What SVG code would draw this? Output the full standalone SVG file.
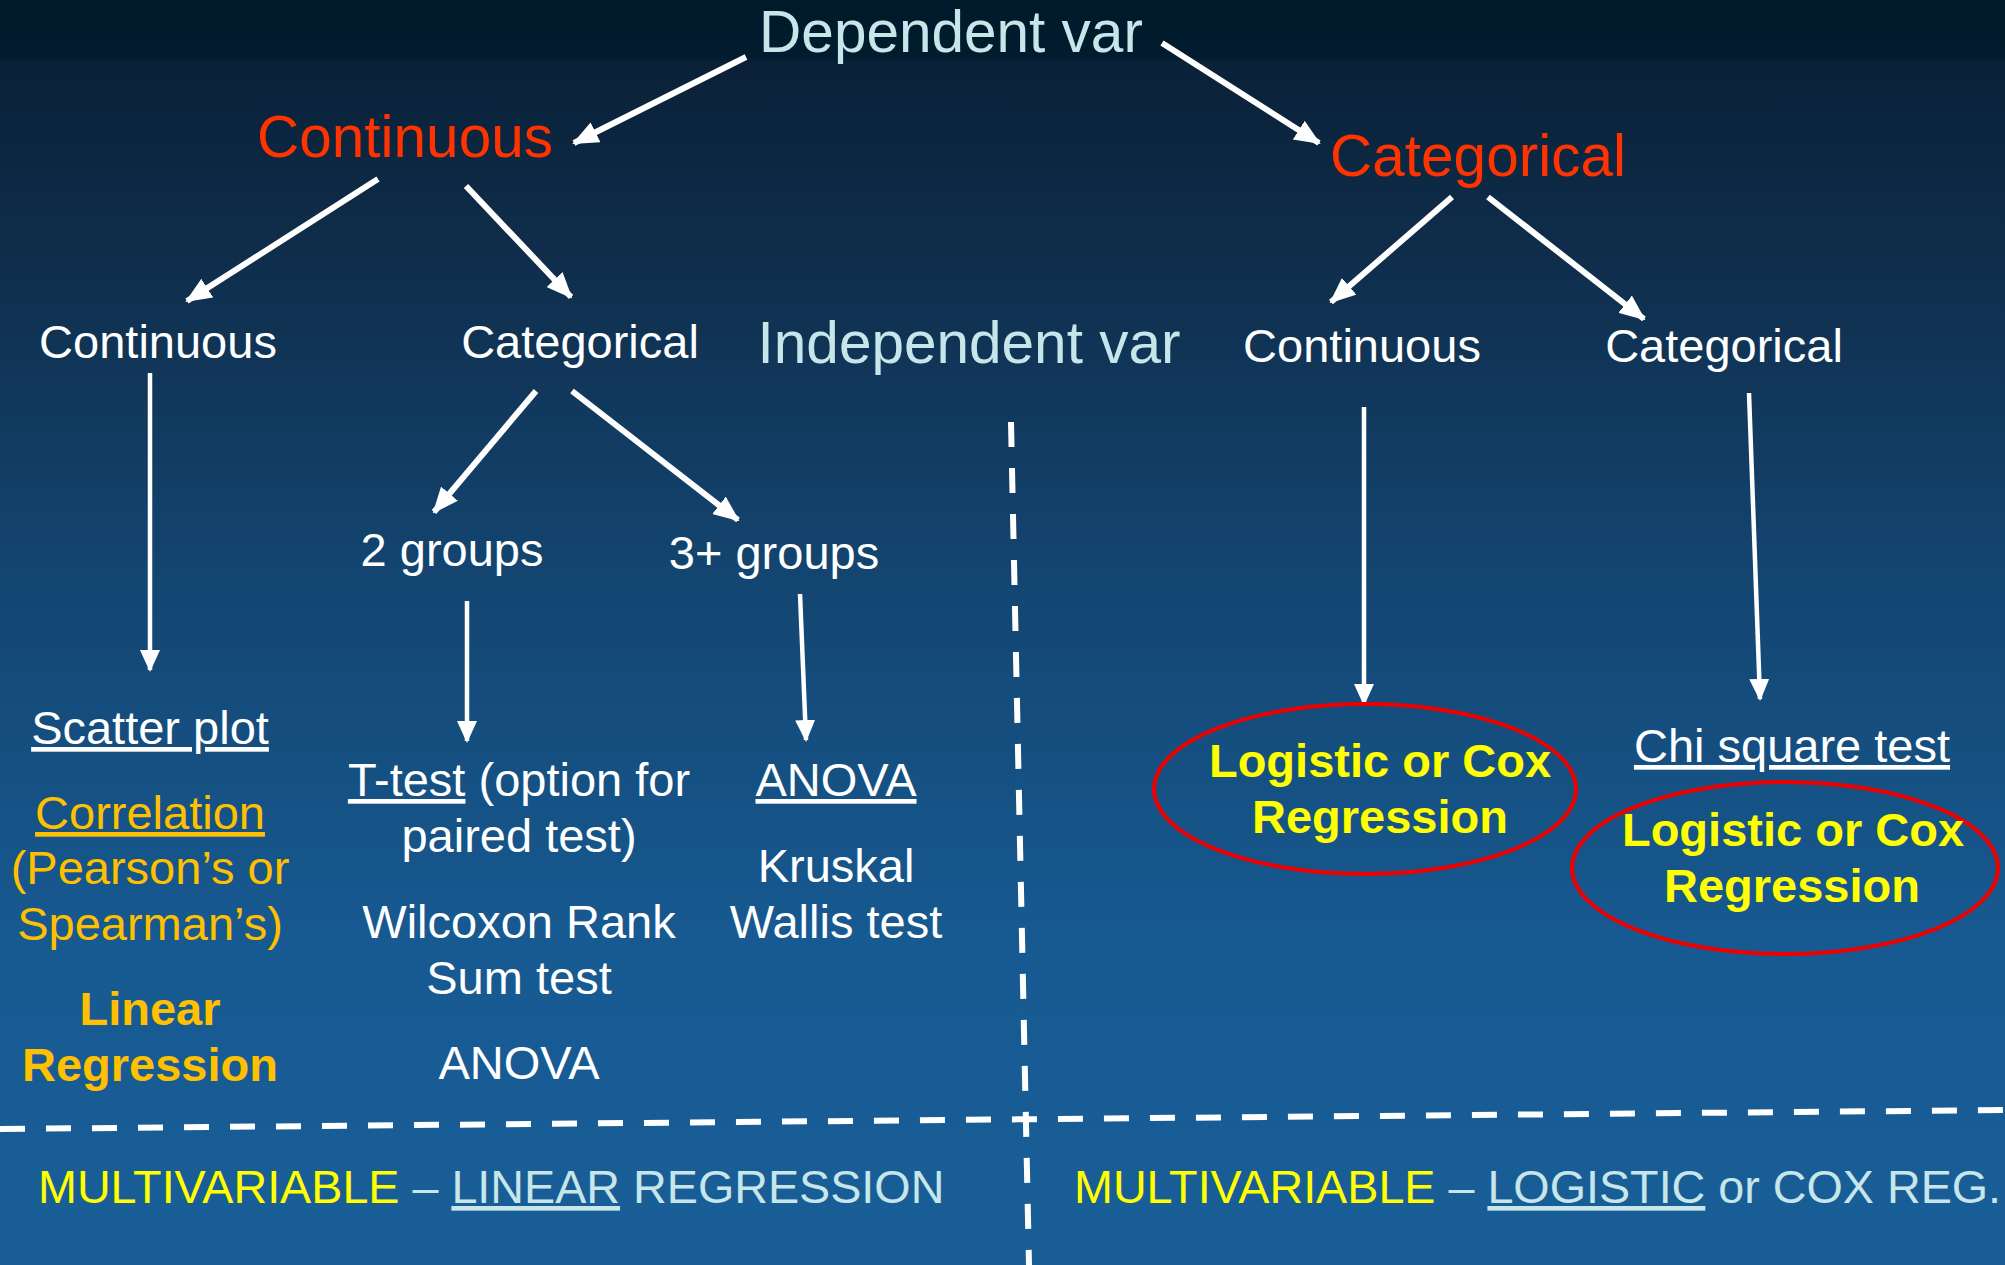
<svg xmlns="http://www.w3.org/2000/svg" width="2005" height="1265" viewBox="0 0 2005 1265">
<defs>
<linearGradient id="bg" x1="0" y1="0" x2="0" y2="1">
<stop offset="0" stop-color="#001a2b"/>
<stop offset="0.045" stop-color="#021c2f"/>
<stop offset="0.05" stop-color="#0a2138"/>
<stop offset="0.2" stop-color="#0f2d4b"/>
<stop offset="0.45" stop-color="#134570"/>
<stop offset="0.75" stop-color="#175a92"/>
<stop offset="1" stop-color="#1a5e98"/>
</linearGradient>
<marker id="ah" markerUnits="userSpaceOnUse" markerWidth="26" markerHeight="22" refX="24" refY="11" orient="auto">
<path d="M0,0 L26,11 L0,22 Z" fill="#ffffff"/>
</marker>
<marker id="ahs" markerUnits="userSpaceOnUse" markerWidth="22" markerHeight="20" refX="20" refY="10" orient="auto">
<path d="M0,0 L22,10 L0,20 Z" fill="#ffffff"/>
</marker>
</defs>
<style>
text{font-family:"Liberation Sans",Arial,sans-serif;text-anchor:middle}
.big{font-size:58.5px;fill:#c6e6ea}
.red{font-size:58.5px;fill:#ff3300}
.w{font-size:47px;fill:#ffffff}
.o{font-size:47px;fill:#ffc000}
.ob{font-size:47px;fill:#ffc000;font-weight:bold}
.yb{font-size:47px;fill:#ffff00;font-weight:bold}
.u{text-decoration:underline}
.bot{font-size:46.7px;fill:#c6e6ea;text-anchor:start}
.yl{fill:#ffff00}
.arr{stroke:#ffffff;stroke-width:6;fill:none;marker-end:url(#ah)}
.arrs{stroke:#ffffff;stroke-width:4.5;fill:none;marker-end:url(#ahs)}
.dash{stroke:#ffffff;stroke-width:6;fill:none;stroke-dasharray:25 21}
.ell{fill:none;stroke:#ee0000;stroke-width:4}
</style>
<rect x="0" y="0" width="2005" height="1265" fill="url(#bg)"/>

<g id="connectors">
<line class="arr" x1="746" y1="57" x2="574" y2="143"/>
<line class="arr" x1="1162" y1="43" x2="1319" y2="143"/>
<line class="arr" x1="378" y1="179" x2="187" y2="301"/>
<line class="arr" x1="466" y1="186" x2="571" y2="297"/>
<line class="arr" x1="1452" y1="197" x2="1331" y2="302"/>
<line class="arr" x1="1488" y1="197" x2="1644" y2="319"/>
<line class="arr" x1="536" y1="391" x2="434" y2="512"/>
<line class="arr" x1="572" y1="391" x2="738" y2="520"/>
<line class="arrs" x1="150" y1="373" x2="150" y2="670"/>
<line class="arrs" x1="467" y1="601" x2="467" y2="741"/>
<line class="arrs" x1="800" y1="594" x2="806" y2="740"/>
<line class="arrs" x1="1364" y1="407" x2="1364" y2="704"/>
<line class="arrs" x1="1749" y1="393" x2="1760" y2="699"/>
<line class="dash" x1="1011" y1="422" x2="1029" y2="1265"/>
<line class="dash" x1="0" y1="1129" x2="2005" y2="1110"/>
</g>

<g id="dependent"><text class="big" x="951" y="52">Dependent var</text></g>
<g id="dep-continuous"><text class="red" x="405" y="157">Continuous</text></g>
<g id="dep-categorical"><text class="red" x="1478" y="176">Categorical</text></g>
<g id="independent"><text class="big" x="969" y="363">Independent var</text></g>
<g id="ind-continuous-l"><text class="w" x="158" y="358">Continuous</text></g>
<g id="ind-categorical-l"><text class="w" x="580" y="358">Categorical</text></g>
<g id="ind-continuous-r"><text class="w" x="1362" y="362">Continuous</text></g>
<g id="ind-categorical-r"><text class="w" x="1724" y="362">Categorical</text></g>
<g id="two-groups"><text class="w" x="452" y="566">2 groups</text></g>
<g id="three-groups"><text class="w" x="774" y="569">3+ groups</text></g>

<g id="cont-cont">
<text class="w u" x="150" y="744">Scatter plot</text>
<text class="o u" x="150" y="829">Correlation</text>
<text class="o" x="150" y="884">(Pearson’s or</text>
<text class="o" x="150" y="940">Spearman’s)</text>
<text class="ob" x="150" y="1025">Linear</text>
<text class="ob" x="150" y="1081">Regression</text>
</g>

<g id="two-tests">
<text class="w" x="519" y="796"><tspan class="u">T-test</tspan> (option for</text>
<text class="w" x="519" y="852">paired test)</text>
<text class="w" x="519" y="938">Wilcoxon Rank</text>
<text class="w" x="519" y="994">Sum test</text>
<text class="w" x="519" y="1079">ANOVA</text>
</g>

<g id="three-tests">
<text class="w u" x="836" y="796">ANOVA</text>
<text class="w" x="836" y="882">Kruskal</text>
<text class="w" x="836" y="938">Wallis test</text>
</g>

<g id="cat-cont">
<ellipse class="ell" cx="1365" cy="789" rx="211" ry="85"/>
<text class="yb" x="1380" y="777">Logistic or Cox</text>
<text class="yb" x="1380" y="833">Regression</text>
</g>

<g id="cat-cat">
<text class="w u" x="1792" y="762">Chi square test</text>
<ellipse class="ell" cx="1785" cy="868" rx="213" ry="86"/>
<text class="yb" x="1793" y="846">Logistic or Cox</text>
<text class="yb" x="1792" y="902">Regression</text>
</g>

<g id="multi-left">
<text class="bot" x="38" y="1203"><tspan class="yl">MULTIVARIABLE</tspan> – <tspan class="u">LINEAR</tspan> REGRESSION</text>
</g>
<g id="multi-right">
<text class="bot" x="1074" y="1203"><tspan class="yl">MULTIVARIABLE</tspan> – <tspan class="u">LOGISTIC</tspan> or COX REG.</text>
</g>
</svg>
